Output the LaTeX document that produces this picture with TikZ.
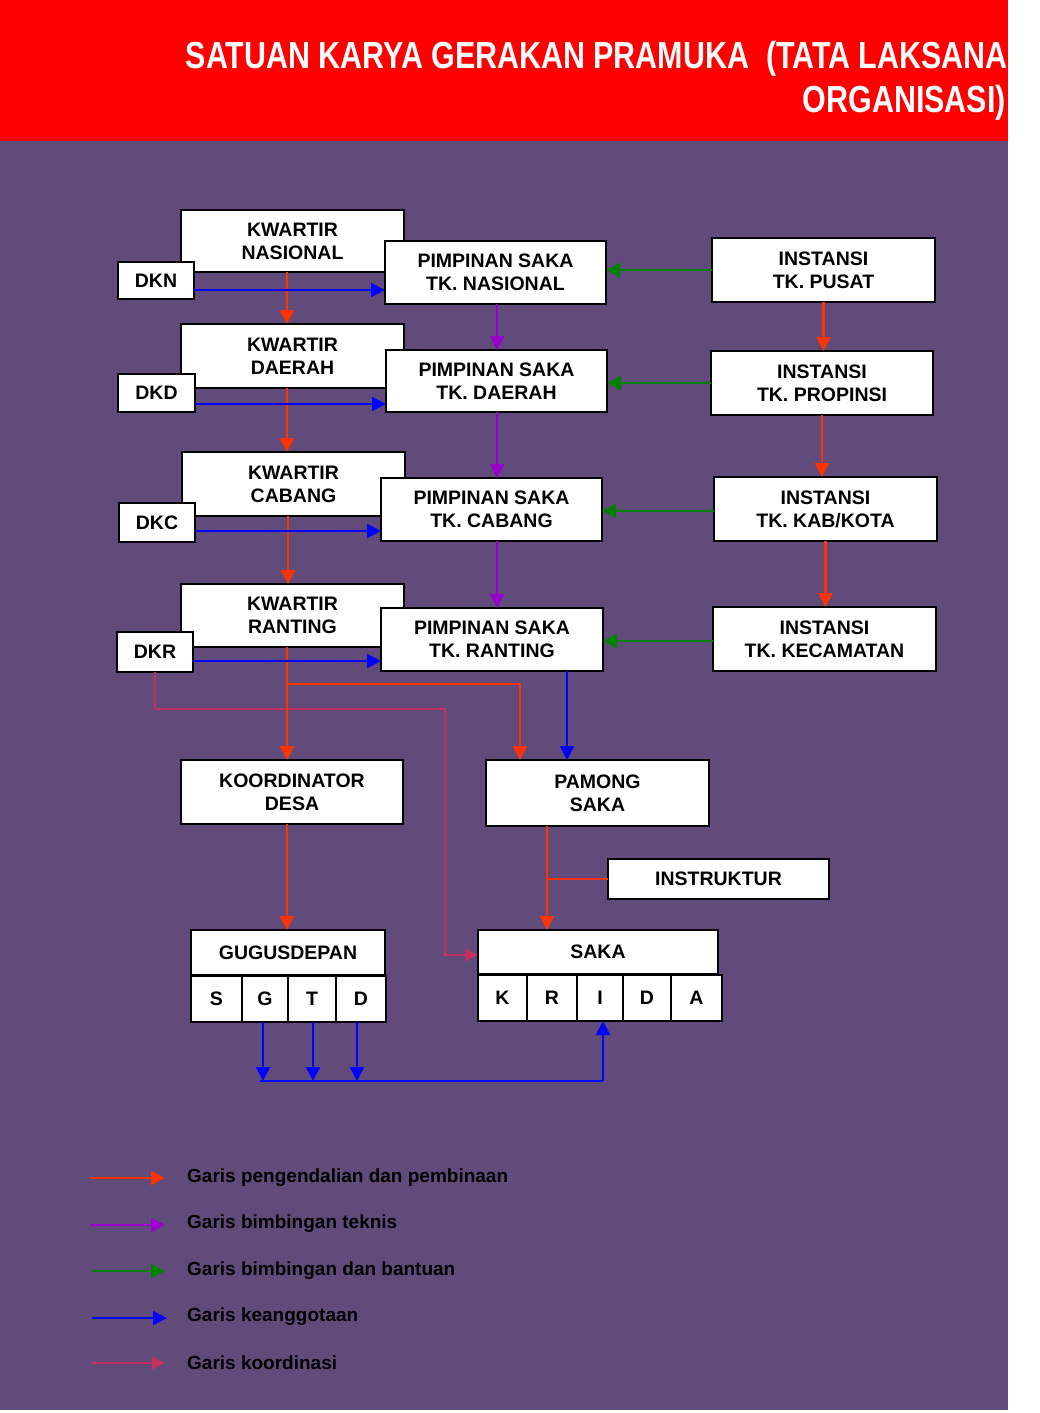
\documentclass[tikz,border=0pt]{standalone}
\usepackage{fontspec}
\setmainfont{Liberation Sans}
\usetikzlibrary{arrows.meta,calc}
\definecolor{bgpurple}{RGB}{97,75,123}
\definecolor{hdred}{RGB}{255,0,0}
\definecolor{cred}{RGB}{255,51,0}
\definecolor{cpurple}{RGB}{153,0,204}
\definecolor{cgreen}{RGB}{0,128,0}
\definecolor{cblue}{RGB}{0,0,255}
\definecolor{ckoor}{RGB}{192,48,96}
\tikzset{
  box/.style={draw=black,fill=white,line width=1.5pt,inner sep=0pt,outer sep=0pt,
    align=center,font=\fontsize{19.5}{23}\selectfont\bfseries},
  tip/.style={-{Triangle[width=14pt,length=14pt]}},
  redarr/.style={draw=cred,line width=2.2pt,tip},
  redline/.style={draw=cred,line width=2.2pt},
  purarr/.style={draw=cpurple,line width=2.2pt,tip},
  grnarr/.style={draw=cgreen,line width=2.2pt,tip},
  bluarr/.style={draw=cblue,line width=2.2pt,tip},
  bluline/.style={draw=cblue,line width=2.2pt},
  kooarr/.style={draw=ckoor,line width=1.6pt,-{Triangle[width=13pt,length=13pt]}},
  legtxt/.style={anchor=west,inner sep=0pt,font=\fontsize{19}{22}\selectfont\bfseries,text=black},
  ttl/.style={anchor=base east,inner sep=0pt,text=white,font=\fontsize{37.7}{44}\selectfont\bfseries}
}
\begin{document}
\begin{tikzpicture}[x=1pt,y=-1pt]
\useasboundingbox (0,0) rectangle (1039,1413);
\fill[white] (0,0) rectangle (1039,1413);
\fill[hdred] (0,0) rectangle (1008,141);
\fill[bgpurple] (0,141) rectangle (1008,1410);
% title
\node[ttl] (t1) at (1008,68) {\scalebox{0.807}[1]{SATUAN KARYA GERAKAN PRAMUKA\ \ (TATA LAKSANA}};
\node[ttl] (t2) at (1006,112) {\scalebox{0.807}[1]{ORGANISASI)}};
% kwartir column
\node[box,minimum width=223pt,minimum height=62pt] (KN) at (292.5,241) {KWARTIR\\NASIONAL};
\node[box,minimum width=223pt,minimum height=64pt] (KD) at (292.5,356) {KWARTIR\\DAERAH};
\node[box,minimum width=223pt,minimum height=64pt] (KC) at (293.5,484) {KWARTIR\\CABANG};
\node[box,minimum width=223pt,minimum height=63pt] (KR) at (292.5,615.5) {KWARTIR\\RANTING};
\node[box,minimum width=76pt,minimum height=37pt] (DKN) at (156,280.5) {DKN};
\node[box,minimum width=77pt,minimum height=38pt] (DKD) at (156.5,393) {DKD};
\node[box,minimum width=76pt,minimum height=39pt] (DKC) at (157,522.5) {DKC};
\node[box,minimum width=76pt,minimum height=40pt] (DKR) at (155,652) {DKR};
% pimpinan column
\node[box,minimum width=221pt,minimum height=63pt] (PN) at (495.5,272.5) {PIMPINAN SAKA\\TK. NASIONAL};
\node[box,minimum width=221pt,minimum height=62pt] (PD) at (496.5,381) {PIMPINAN SAKA\\TK. DAERAH};
\node[box,minimum width=221pt,minimum height=63pt] (PC) at (491.5,509.5) {PIMPINAN SAKA\\TK. CABANG};
\node[box,minimum width=222pt,minimum height=63pt] (PR) at (492,639.5) {PIMPINAN SAKA\\TK. RANTING};
% instansi column
\node[box,minimum width=223pt,minimum height=64pt] (IP) at (823.5,270) {INSTANSI\\TK. PUSAT};
\node[box,minimum width=222pt,minimum height=64pt] (IPr) at (822,383) {INSTANSI\\TK. PROPINSI};
\node[box,minimum width=223pt,minimum height=64pt] (IK) at (825.5,509) {INSTANSI\\TK. KAB/KOTA};
\node[box,minimum width=223pt,minimum height=64pt] (IKc) at (824.5,639) {INSTANSI\\TK. KECAMATAN};
% lower
\node[box,minimum width=222pt,minimum height=64pt] (KDes) at (292,792) {KOORDINATOR\\DESA};
\node[box,minimum width=223pt,minimum height=66pt] (PS) at (597.5,793) {PAMONG\\SAKA};
\node[box,minimum width=221pt,minimum height=40pt] (INS) at (718.5,879) {INSTRUKTUR};
\node[box,minimum width=194pt,minimum height=45pt] (GD) at (288,952.5) {GUGUSDEPAN};
\node[box,minimum width=51pt,minimum height=46pt] (cS) at (216.5,999) {S};
\node[box,minimum width=46pt,minimum height=46pt] (cG) at (265,999) {G};
\node[box,minimum width=48pt,minimum height=46pt] (cT) at (312,999) {T};
\node[box,minimum width=50pt,minimum height=46pt] (cD) at (361,999) {D};
\node[box,minimum width=240pt,minimum height=44pt] (SAKA) at (598,952) {SAKA};
\node[box,minimum width=49pt,minimum height=46pt] (cK) at (502.5,998) {K};
\node[box,minimum width=50pt,minimum height=46pt] (cR) at (552,998) {R};
\node[box,minimum width=46pt,minimum height=46pt] (cI) at (600,998) {I};
\node[box,minimum width=48pt,minimum height=46pt] (cDa) at (647,998) {D};
\node[box,minimum width=51pt,minimum height=46pt] (cA) at (696.5,998) {A};
% koordinasi (drawn first, below the other lines)
\coordinate (k1) at ([yshift=-37pt]DKR.south);
\coordinate (k2) at ([xshift=290pt]k1);
\coordinate (k3) at ([yshift=-3pt]SAKA.west);
\draw[kooarr] (DKR.south) -- (k1) -- (k2) -- (k2 |- k3) -- (k3);
% red: kwartir chain
\coordinate (r1) at ([xshift=-5.5pt]KN.south);
\draw[redarr] (r1) -- (r1 |- KD.north);
\coordinate (r2) at ([xshift=-5.5pt]KD.south);
\draw[redarr] (r2) -- (r2 |- KC.north);
\coordinate (r3) at ([xshift=-5.5pt]KC.south);
\draw[redarr] (r3) -- (r3 |- KR.north);
\coordinate (r4) at ([xshift=-5.5pt]KR.south);
\draw[redarr] (r4) -- (r4 |- KDes.north);
\coordinate (b1) at ([yshift=-37pt]r4);
\coordinate (b2) at ([xshift=-77.5pt]PS.north);
\draw[redarr] (b1) -| (b2);
\coordinate (r5) at ([xshift=-5pt]KDes.south);
\draw[redarr] (r5) -- (r5 |- GD.north);
\coordinate (r6) at ([xshift=-50.5pt]PS.south);
\draw[redarr] (r6) -- (r6 |- SAKA.north);
\draw[redline] (INS.west) -- (INS.west -| r6);
% red: instansi chain
\draw[redarr] (IP.south) -- (IP.south |- IPr.north);
\draw[redarr] (IPr.south) -- (IPr.south |- IK.north);
\draw[redarr] (IK.south) -- (IK.south |- IKc.north);
% green
\draw[grnarr] (IP.west) -- (IP.west -| PN.east);
\draw[grnarr] (IPr.west) -- (IPr.west -| PD.east);
\draw[grnarr] ([yshift=-2pt]IK.west) -- ([yshift=-2pt]IK.west -| PC.east);
\draw[grnarr] ([yshift=-2pt]IKc.west) -- ([yshift=-2pt]IKc.west -| PR.east);
% purple
\coordinate (p1) at ([xshift=1.5pt]PN.south);
\draw[purarr] (p1) -- (p1 |- PD.north);
\coordinate (p2) at ([xshift=0.5pt]PD.south);
\draw[purarr] (p2) -- (p2 |- PC.north);
\coordinate (p3) at ([xshift=5.5pt]PC.south);
\draw[purarr] (p3) -- (p3 |- PR.north);
% blue
\coordinate (u1) at ([yshift=-9.5pt]DKN.east);
\draw[bluarr] (u1) -- (u1 -| PN.west);
\coordinate (u2) at ([yshift=-11pt]DKD.east);
\draw[bluarr] (u2) -- (u2 -| PD.west);
\coordinate (u3) at ([yshift=-8.5pt]DKC.east);
\draw[bluarr] (u3) -- (u3 -| PC.west);
\coordinate (u4) at ([yshift=-9pt]DKR.east);
\draw[bluarr] (u4) -- (u4 -| PR.west);
\coordinate (u5) at ([xshift=75pt]PR.south);
\draw[bluarr] (u5) -- (u5 |- PS.north);
\coordinate (g1) at ([xshift=-2pt]cG.south);
\coordinate (bl) at ([xshift=-3pt,yshift=-59pt]g1);
\coordinate (g2) at ([xshift=1pt]cT.south);
\coordinate (g3) at ([xshift=-4pt]cD.south);
\coordinate (ib) at ([xshift=3pt]cI.south);
\coordinate (br) at (bl -| ib);
\draw[bluarr] (g1) -- (g1 |- bl);
\draw[bluarr] (g2) -- (g2 |- bl);
\draw[bluarr] (g3) -- (g3 |- bl);
\draw[bluline] (bl) -- (br);
\draw[bluarr] (br) -- (ib);
% legend
\node[legtxt] (L1) at (187,1178) {Garis pengendalian dan pembinaan};
\node[legtxt] (L2) at (187,1224) {Garis bimbingan teknis};
\node[legtxt] (L3) at (187,1271) {Garis bimbingan dan bantuan};
\node[legtxt] (L4) at (187,1317) {Garis keanggotaan};
\node[legtxt] (L5) at (187,1363) {Garis koordinasi};
\draw[redarr,line width=1.8pt] ([xshift=-97pt]L1.west) -- ([xshift=-22pt]L1.west);
\draw[purarr,line width=1.8pt] ([xshift=-97pt,yshift=-1pt]L2.west) -- ([xshift=-22pt,yshift=-1pt]L2.west);
\draw[grnarr,line width=1.8pt] ([xshift=-95pt]L3.west) -- ([xshift=-22pt]L3.west);
\draw[bluarr,line width=1.8pt] ([xshift=-95pt,yshift=-1pt]L4.west) -- ([xshift=-20pt,yshift=-1pt]L4.west);
\draw[kooarr] ([xshift=-95pt]L5.west) -- ([xshift=-22pt]L5.west);
\end{tikzpicture}
\end{document}
